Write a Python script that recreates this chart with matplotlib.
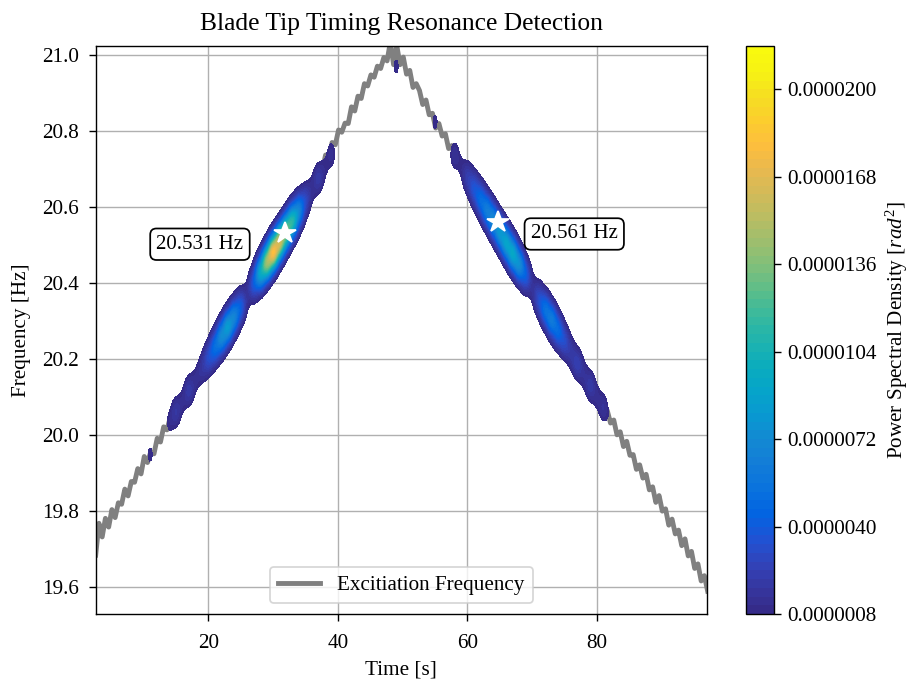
import numpy as np
import matplotlib
matplotlib.use('Agg')
import matplotlib.pyplot as plt
from matplotlib.colors import LinearSegmentedColormap
from matplotlib.ticker import FormatStrFormatter

plt.rcParams['font.family'] = ['Liberation Serif', 'DejaVu Serif']
plt.rcParams['mathtext.fontset'] = 'custom'
plt.rcParams['mathtext.rm'] = 'Liberation Serif'
plt.rcParams['mathtext.it'] = 'Liberation Serif:italic'

# excitation frequency track, sampled every 0.5 s from t = 2.6 s  [Hz]
t_start, t_step = 2.6, 0.5
exc_freq = [
    19.683, 19.767, 19.731, 19.780, 19.757, 19.803, 19.782, 19.821, 19.817, 19.857,
    19.839, 19.877, 19.875, 19.911, 19.897, 19.943, 19.927, 19.955, 19.950, 19.991,
    19.981, 20.021, 20.013, 20.045, 20.034, 20.075, 20.071, 20.107, 20.095, 20.127,
    20.123, 20.165, 20.149, 20.200, 20.181, 20.215, 20.203, 20.237, 20.235, 20.273,
    20.265, 20.299, 20.289, 20.325, 20.323, 20.359, 20.347, 20.379, 20.371, 20.411,
    20.403, 20.441, 20.435, 20.467, 20.457, 20.493, 20.489, 20.527, 20.515, 20.545,
    20.541, 20.577, 20.573, 20.611, 20.599, 20.635, 20.631, 20.665, 20.653, 20.699,
    20.698, 20.737, 20.731, 20.770, 20.764, 20.803, 20.797, 20.821, 20.820, 20.864,
    20.853, 20.892, 20.886, 20.925, 20.919, 20.948, 20.942, 20.971, 20.965, 20.994,
    20.985, 21.035, 20.975, 21.025, 20.975, 20.995, 20.950, 20.960, 20.915, 20.925,
    20.907, 20.870, 20.882, 20.843, 20.847, 20.808, 20.820, 20.787, 20.793, 20.754,
    20.762, 20.727, 20.735, 20.694, 20.702, 20.671, 20.675, 20.634, 20.642, 20.609,
    20.615, 20.584, 20.592, 20.561, 20.565, 20.528, 20.530, 20.493, 20.497, 20.462,
    20.472, 20.435, 20.445, 20.408, 20.412, 20.375, 20.389, 20.352, 20.356, 20.319,
    20.325, 20.288, 20.300, 20.265, 20.269, 20.232, 20.244, 20.205, 20.209, 20.170,
    20.182, 20.147, 20.157, 20.116, 20.124, 20.091, 20.097, 20.056, 20.064, 20.031,
    20.039, 20.000, 20.008, 19.969, 19.983, 19.946, 19.948, 19.909, 19.921, 19.886,
    19.896, 19.855, 19.863, 19.822, 19.840, 19.799, 19.805, 19.762, 19.778, 19.739,
    19.749, 19.708, 19.726, 19.681, 19.693, 19.648, 19.660, 19.615, 19.629, 19.588,
]

# spectrogram ridge: one window per second from t = 3 s
win_start, win_step = 3.0, 1.0
ridge_freq = [  # Hz
    19.724, 19.752, 19.780, 19.808, 19.836, 19.864, 19.892, 19.920, 19.948, 19.976,
    20.004, 20.032, 20.060, 20.088, 20.116, 20.144, 20.172, 20.200, 20.228, 20.256,
    20.284, 20.312, 20.340, 20.368, 20.396, 20.424, 20.452, 20.480, 20.508, 20.536,
    20.564, 20.592, 20.620, 20.648, 20.676, 20.704, 20.740, 20.775, 20.805, 20.835,
    20.865, 20.895, 20.925, 20.950, 20.975, 20.985, 20.970, 20.960, 20.935, 20.910,
    20.883, 20.854, 20.825, 20.796, 20.767, 20.738, 20.709, 20.680, 20.651, 20.622,
    20.593, 20.564, 20.535, 20.506, 20.477, 20.448, 20.419, 20.390, 20.361, 20.332,
    20.303, 20.274, 20.245, 20.216, 20.187, 20.158, 20.129, 20.100, 20.071, 20.042,
    20.013, 19.984, 19.955, 19.926, 19.897, 19.868, 19.839, 19.810, 19.781, 19.752,
    19.723, 19.694, 19.665, 19.636, 19.607,
]
ridge_psd = [  # 1e-6 rad^2
    0, 0, 0, 0, 0, 0, 0, 0, 1.3, 0,
    0, 1.2, 2.2, 1.1, 2.4, 1.2, 1.8, 3.5, 5.5, 8.0,
    9.5, 7.5, 4.5, 1.1, 4.0, 10.0, 16.0, 20.5, 18.0, 15.0,
    12.5, 7.5, 3.0, 1.2, 2.4, 1.0, 1.6, 0, 0, 0,
    0, 0, 0, 0, 0, 0, 1.3, 0, 0, 0,
    0, 0, 1.3, 0, 0, 1.8, 0.9, 2.5, 4.0, 5.5,
    7.0, 8.0, 9.0, 10.0, 10.5, 8.5, 4.5, 1.2, 3.5, 6.0,
    7.0, 5.5, 3.5, 2.0, 2.8, 1.4, 2.4, 1.2, 1.8, 0.6,
    0, 0, 0, 0, 0, 0, 0, 0, 0, 0,
    0, 0, 0, 0, 0,
]
ridge_width = 0.03  # Hz, spread across frequency
window_width = 0.55  # s, spread across time

# detected resonances
res_time = [31.9, 64.8]
res_freq = [20.531, 20.561]
label_time = [18.7, 76.5]
label_freq = [20.502, 20.529]

cbar_ticks = [0.8e-6, 4.0e-6, 7.2e-6, 10.4e-6, 13.6e-6, 16.8e-6, 20.0e-6]

# parula-like colormap
parula = LinearSegmentedColormap.from_list('parula', [
    (0.2081, 0.1663, 0.5292), (0.2123, 0.2138, 0.6270), (0.1959, 0.2645, 0.7279),
    (0.1253, 0.3242, 0.8303), (0.0117, 0.3875, 0.8820), (0.0329, 0.4430, 0.8720),
    (0.0723, 0.4887, 0.8467), (0.0749, 0.5375, 0.8263), (0.0343, 0.5966, 0.8199),
    (0.0231, 0.6418, 0.7913), (0.0384, 0.6743, 0.7436), (0.1133, 0.7015, 0.6859),
    (0.2178, 0.7250, 0.6193), (0.3482, 0.7424, 0.5473), (0.4871, 0.7491, 0.4840),
    (0.6099, 0.7473, 0.4337), (0.7184, 0.7411, 0.3905), (0.8185, 0.7327, 0.3498),
    (0.9139, 0.7258, 0.3063), (0.9938, 0.7455, 0.2403), (0.9880, 0.8066, 0.1794),
    (0.9626, 0.8705, 0.1309), (0.9661, 0.9514, 0.0755), (0.9763, 0.9831, 0.0538),
])

time = t_start + t_step * np.arange(len(exc_freq))
win_time = win_start + win_step * np.arange(len(ridge_freq))
rf = np.array(ridge_freq)
amp = np.array(ridge_psd) * 1e-6

# each window spreads its PSD around its ridge point
t_grid = np.linspace(2.6, 97.0, 700)
f_grid = np.linspace(19.5, 21.05, 400)
w_t = np.exp(-0.5 * ((t_grid[None, :] - win_time[:, None]) / window_width) ** 2)
w_t *= win_step / (window_width * np.sqrt(2 * np.pi))
w_f = np.exp(-0.5 * ((f_grid[:, None] - rf[None, :]) / ridge_width) ** 2)
psd = w_f @ (amp[:, None] * w_t)
levels = np.linspace(0.8e-6, 21.6e-6, 66)

dpi = 125
fig = plt.figure(figsize=(909 / dpi, 682 / dpi), dpi=dpi)
ax = fig.add_axes([95.7 / 909, 1 - 614 / 682, 611.3 / 909, 568.3 / 682])
cax = fig.add_axes([746 / 909, 1 - 614 / 682, 28 / 909, 568.3 / 682])

ax.set_axisbelow(True)
ax.grid(True)
ax.plot(time, exc_freq, color='gray', lw=2.8, label='Excitiation Frequency', zorder=2)
cs = ax.contourf(t_grid, f_grid, psd, levels=levels, cmap=parula, zorder=3)

ax.plot(res_time, res_freq, linestyle='none', marker='*', ms=13, mfc='white',
        mec='white', zorder=5)
for lt, lf, f in zip(label_time, label_freq, res_freq):
    ax.text(lt, lf, f'{f:.3f} Hz', ha='center', va='center', fontsize=12, zorder=6,
            bbox=dict(boxstyle='round,pad=0.3', fc='white', ec='black', lw=1.0))

ax.set_xlim(2.6, 97.0)
ax.set_ylim(19.528, 21.025)
ax.set_xticks([20, 40, 60, 80])
ax.set_yticks([19.6, 19.8, 20.0, 20.2, 20.4, 20.6, 20.8, 21.0])
ax.tick_params(labelsize=12.2, length=4.2)
ax.tick_params(axis='x', pad=7.5)
ax.tick_params(axis='y', pad=5.5)
ax.set_xlabel('Time [s]', fontsize=12.2)
ax.set_ylabel('Frequency [Hz]', fontsize=12.2, labelpad=6.5)
ax.set_title('Blade Tip Timing Resonance Detection', fontsize=14.7, pad=9)
ax.legend(loc='lower center', fontsize=12.2)

cb = fig.colorbar(cs, cax=cax, ticks=cbar_ticks)
cb.ax.yaxis.set_major_formatter(FormatStrFormatter('%.7f'))
cb.ax.tick_params(labelsize=12.2, length=4.2)
cb.set_label('Power Spectral Density [$rad^2$]', fontsize=12.2, labelpad=4)

fig.savefig('out.png', dpi=dpi)
